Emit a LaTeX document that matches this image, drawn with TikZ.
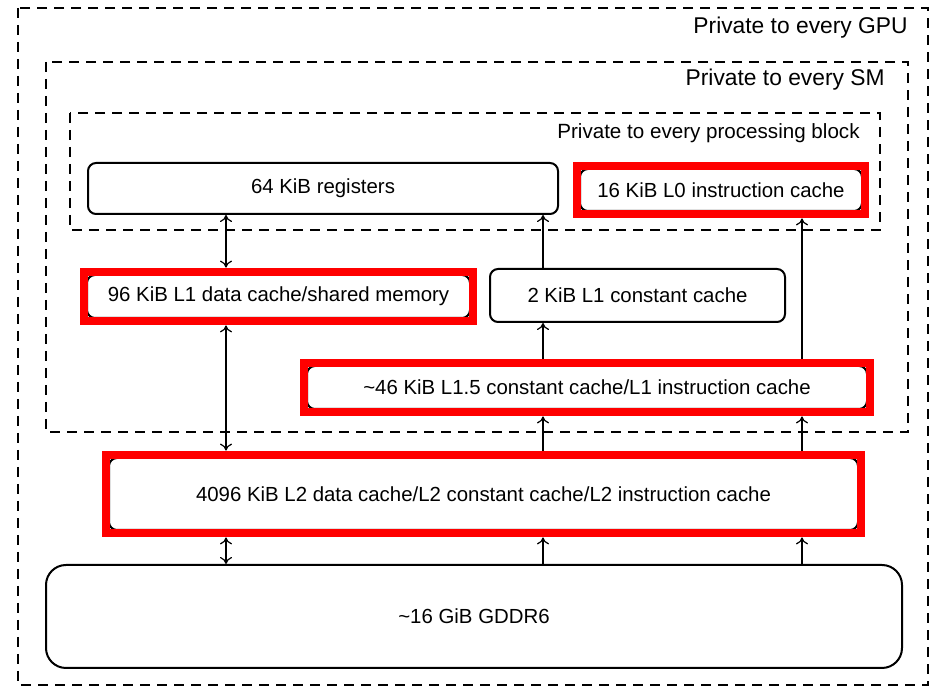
\documentclass[tikz,border=0pt]{standalone}
\usepackage{fontspec}
\setmainfont{Liberation Sans}
\usetikzlibrary{fit,arrows.meta}

\begin{document}
\begin{tikzpicture}[x=0.5pt,y=-0.5pt,>={To[length=3.5pt,width=6pt]},
    cache/.style={draw,line width=1pt,rounded corners=4pt,fill=white,inner sep=0pt,
                  font=\fontsize{10.2}{12}\selectfont},
    hot/.style={draw=red,line width=4pt,inner sep=1.2pt},
    scopebox/.style={line width=1pt,dash pattern=on 5pt off 3.5pt},
    scopelabel/.style={anchor=east,inner sep=0pt},
    link/.style={line width=0.6pt}]
  \useasboundingbox (0,0) rectangle (938,688);

  \draw[scopebox] (18,8) rectangle (928,685);
  \draw[scopebox] (46,62) rectangle (908,432);
  \draw[scopebox] (70,113) rectangle (880,230);
  \node[scopelabel,font=\fontsize{11.4}{13}\selectfont] (gpulbl) at (908,28) {Private to every GPU};
  \node[scopelabel,font=\fontsize{11.4}{13}\selectfont] (smlbl) at (885,80) {Private to every SM};
  \node[scopelabel,font=\fontsize{10.3}{12}\selectfont] (pblbl) at (860,133) {Private to every processing block};

  \node[cache,minimum width=235pt,minimum height=25.5pt] (reg) at (323,188.5) {64 KiB registers};
  \node[cache,minimum width=141pt,minimum height=21pt] (l0) at (721,190) {16 KiB L0 instruction cache};
  \node[cache,minimum width=191.5pt,minimum height=21.5pt] (l1d) at (278.5,296.5) {96 KiB L1 data cache/shared memory};
  \node[cache,minimum width=147.5pt,minimum height=26.5pt] (l1c) at (637.5,295.5) {2 KiB L1 constant cache};
  \node[cache,minimum width=280pt,minimum height=21.5pt] (l15) at (587,387.5) {\textasciitilde46 KiB L1.5 constant cache/L1 instruction cache};
  \node[cache,minimum width=374.5pt,minimum height=36pt] (l2) at (483.5,494) {4096 KiB L2 data cache/L2 constant cache/L2 instruction cache};
  \node[cache,rounded corners=10pt,minimum width=428pt,minimum height=51.5pt] (gddr) at (474,616.5) {\textasciitilde16 GiB GDDR6};

  \foreach \n in {l0,l1d,l15,l2}
    \node[hot,fit=(\n)] (\n f) {};

  \coordinate (c1) at (226,0);
  \coordinate (c2) at (543,0);
  \coordinate (c3) at (802,0);

  \draw[link,<->] (reg.south -| c1) -- (l1df.north -| c1);
  \draw[link,<->] (l1df.south -| c1) -- (l2f.north -| c1);
  \draw[link,<->] (l2f.south -| c1) -- (gddr.north -| c1);
  \foreach \c in {c2,c3} {
    \draw[link,->] (gddr.north -| \c) -- (l2f.south -| \c);
    \draw[link,->] (l2f.north -| \c) -- (l15f.south -| \c);
  }
  \draw[link,->] (l15f.north -| c2) -- (l1c.south -| c2);
  \draw[link,->] (l1c.north -| c2) -- (reg.south -| c2);
  \draw[link,->] (l15f.north -| c3) -- (l0f.south -| c3);
\end{tikzpicture}
\end{document}
